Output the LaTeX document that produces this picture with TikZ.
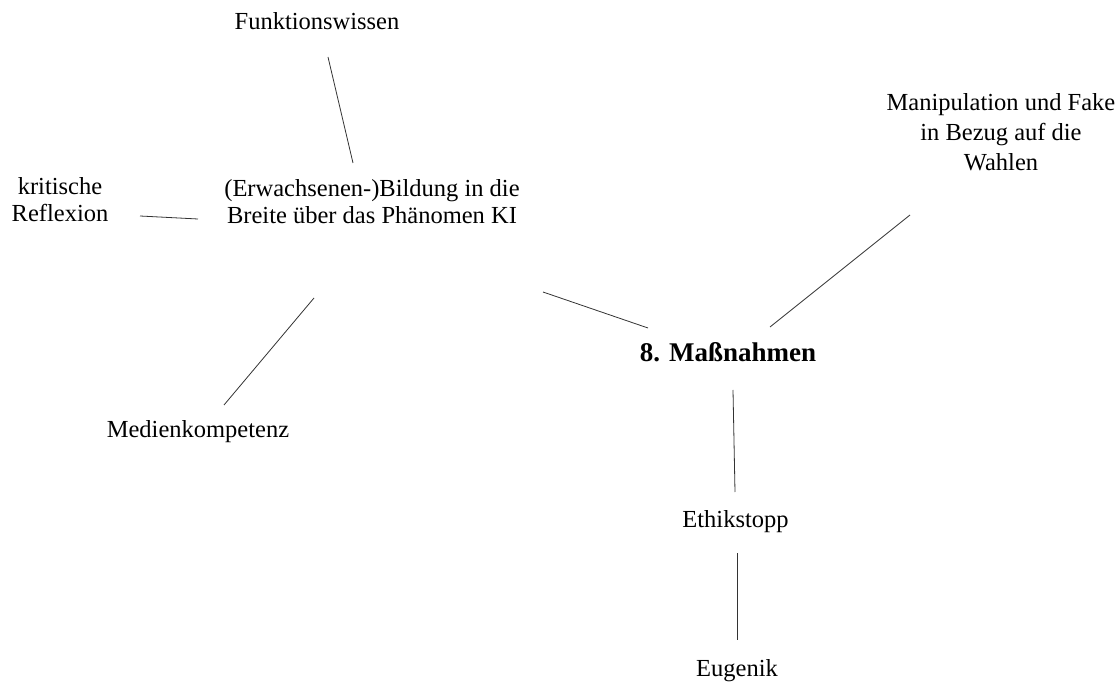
\documentclass[tikz,border=0pt]{standalone}
\usepackage{fontspec}
\setmainfont{Liberation Serif}
\usepackage{tikz}

\tikzset{
  topic/.style={inner sep=0pt,align=center,font=\fontsize{24.5}{27}\selectfont},
  head/.style={inner sep=0pt,font=\fontsize{27}{30}\selectfont\bfseries},
  link/.style={line width=0.8pt,black!80}
}

\begin{document}
\begin{tikzpicture}[x=1pt,y=-1pt]
\useasboundingbox (0,0) rectangle (1117,684);
\node[head,anchor=base] (mass) at (728,362) {8. Maßnahmen};
\node[topic] (bild) at (372,201.5) {(Erwachsenen-)Bildung in die\\Breite über das Phänomen KI};
\node[topic,anchor=base] (fw) at (317,30) {Funktionswissen};
\node[topic] (kr) at (60,200) {kritische\\Reflexion};
\node[topic,anchor=base] (med) at (198,438) {Medienkompetenz};
\node[topic,font=\fontsize{24.5}{30}\selectfont] (man) at (1001,131.7) {Manipulation und Fake\\in Bezug auf die\\Wahlen};
\node[topic,anchor=base] (eth) at (735.5,527) {Ethikstopp};
\node[topic,anchor=base] (eug) at (737,676) {Eugenik};
% Verbindungen
\draw[link]([shift={(11,27)}]fw.base)--([shift={(-19,-38.5)}]bild.center);
\draw[link]([shift={(80,16)}]kr.center)--([shift={(-174,17.5)}]bild.center);
\draw[link]([shift={(-58,96.5)}]bild.center)--([shift={(26,-33)}]med.base);
\draw[link]([shift={(171,90.5)}]bild.center)--([shift={(-80,-34)}]mass.base);
\draw[link]([shift={(-91,83.3)}]man.center)--([shift={(42,-35)}]mass.base);
\draw[link]([shift={(5,28)}]mass.base)--([shift={(-0.5,-35)}]eth.base);
\draw[link]([shift={(1.5,26)}]eth.base)--([shift={(0,-36)}]eug.base);
\end{tikzpicture}
\end{document}
